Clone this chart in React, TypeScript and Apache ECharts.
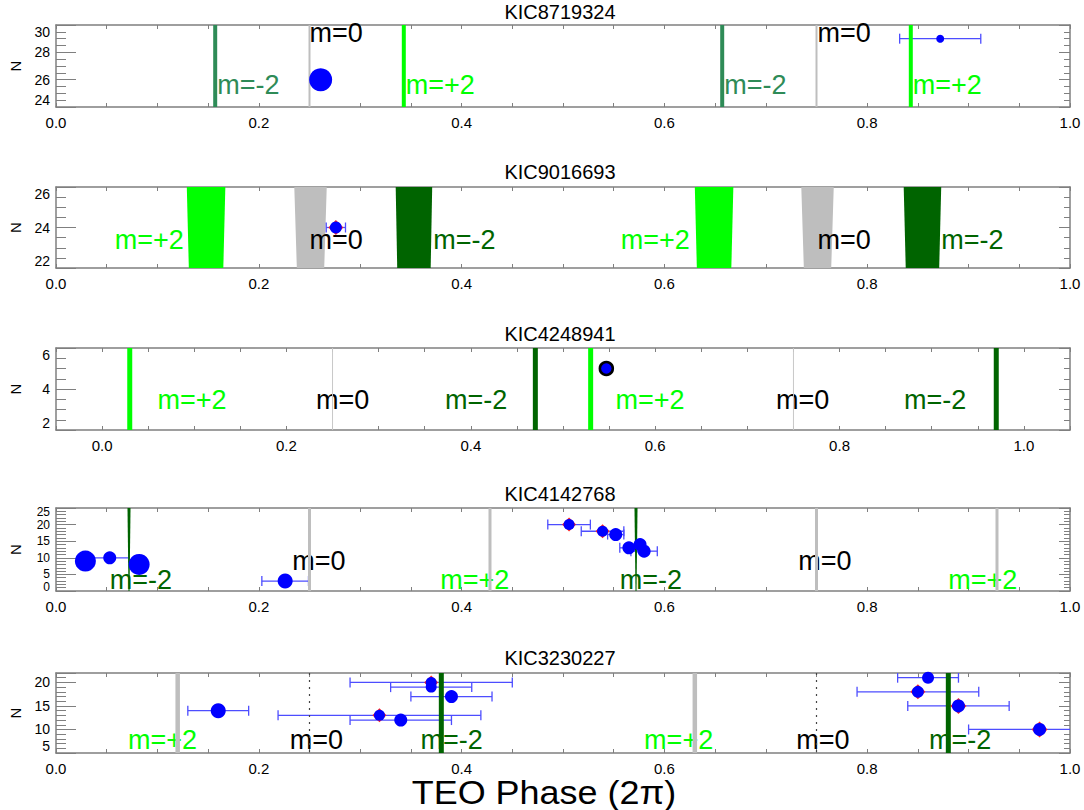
import React, { useEffect, useRef } from 'react';
import * as echarts from 'echarts';

// ---------------- data ----------------
const titles = ['KIC8719324', 'KIC9016693', 'KIC4248941', 'KIC4142768', 'KIC3230227'];
const xRanges = [[0, 1], [0, 1], [-0.05, 1.05], [0, 1], [0, 1]];
const yRanges = [[24, 30], [22, 26], [2, 6], [0, 25], [5, 22]];
const yIntervals = [2, 2, 2, 5, 5];
const yMinorSplits = [4, 4, 4, 5, 5];
const xTickStep = 0.05;
const xLabelStep = 0.2;

// mode markers: [phase, m, halfWidthTop, halfWidthBottom]
const modes1 = [[0.157, -2, 0, 0], [0.25, 0, 0, 0], [0.343, 2, 0, 0], [0.657, -2, 0, 0], [0.75, 0, 0, 0], [0.843, 2, 0, 0]];
const modes2 = [[0.148, 2, 0.019, 0.017], [0.251, 0, 0.016, 0.0135], [0.353, -2, 0.018, 0.0165], [0.649, 2, 0.019, 0.017], [0.751, 0, 0.016, 0.0135], [0.8545, -2, 0.0185, 0.0165]];
const modes3 = [[0.03, 2, 0, 0], [0.25, 0, 0, 0], [0.47, -2, 0, 0], [0.53, 2, 0, 0], [0.75, 0, 0, 0], [0.97, -2, 0, 0]];
const modes4 = [[0.072, -2, 0.0015, 0.0005], [0.25, 0, 0, 0], [0.428, 2, 0, 0], [0.572, -2, 0.0015, 0.0005], [0.75, 0, 0, 0], [0.928, 2, 0, 0]];
const modes5 = [[0.12, 2, 0, 0], [0.25, 0, 0, 0], [0.38, -2, 0, 0], [0.63, 2, 0, 0], [0.75, 0, 0, 0], [0.88, -2, 0, 0]];

// mode labels: [phase, N, m]
const labels1 = [[0.159, 25.6, -2], [0.25, 29.45, 0], [0.345, 25.6, 2], [0.659, 25.6, -2], [0.751, 29.45, 0], [0.845, 25.6, 2]];
const labels2 = [[0.058, 23.38, 2], [0.25, 23.38, 0], [0.372, 23.38, -2], [0.557, 23.38, 2], [0.751, 23.38, 0], [0.873, 23.38, -2]];
const labels3 = [[0.06, 3.46, 2], [0.232, 3.46, 0], [0.372, 3.46, -2], [0.557, 3.46, 2], [0.731, 3.46, 0], [0.87, 3.46, -2]];
const labels4 = [[0.053, 3.3, -2], [0.233, 9, 0], [0.379, 3.3, 2], [0.556, 3.3, -2], [0.732, 9, 0], [0.88, 3.3, 2]];
const labels5 = [[0.071, 7.7, 2], [0.2305, 7.7, 0], [0.3595, 7.7, -2], [0.58, 7.7, 2], [0.73, 7.7, 0], [0.861, 7.7, -2]];

// observed TEOs: [phase, N, phaseErr, amplitude, flagged]
const points1 = [[0.261, 26, 0, 23, 0], [0.872, 29, 0.04, 8, 0]];
const points2 = [[0.276, 24, 0.0095, 12, 1]];
const points3 = [[0.547, 5, 0, 13, 0]];
const points4 = [
  [0.029, 9, 0, 21, 0],
  [0.053, 10, 0.019, 13, 0],
  [0.082, 8, 0, 21, 0],
  [0.226, 3, 0.023, 15, 0],
  [0.506, 20, 0.021, 11, 1],
  [0.539, 18, 0.021, 11, 1],
  [0.552, 17, 0.008, 13, 0],
  [0.565, 13, 0.009, 13, 0],
  [0.576, 14, 0, 13, 0],
  [0.58, 12, 0.013, 13, 0],
];
const points5 = [
  [0.16, 14, 0.03, 15, 0],
  [0.37, 20, 0.08, 11, 1],
  [0.37, 19, 0.04, 11, 0],
  [0.39, 17, 0.04, 13, 0],
  [0.319, 13, 0.1, 11, 1],
  [0.34, 12, 0.05, 13, 0],
  [0.86, 21, 0.03, 12, 0],
  [0.85, 18, 0.06, 12, 1],
  [0.89, 15, 0.05, 13, 1],
  [0.97, 10, 0.07, 13, 1],
];

const allModes = [modes1, modes2, modes3, modes4, modes5];
const allLabels = [labels1, labels2, labels3, labels4, labels5];
const allPoints = [points1, points2, points3, points4, points5];

// ---------------- styles / layout ----------------
const FONT = 'Liberation Sans, Arial, Helvetica, sans-serif';
const AXIS = '#7f7f7f';
const GREEN = '#00ff00';
const DKGREEN = '#006400';
const SEAGREEN = '#2e8b57';
const GRAY = '#bebebe';
const EB = '#4d4dff';
const grids = [
  { top: 25, height: 82 },
  { top: 187, height: 81 },
  { top: 348, height: 82 },
  { top: 508, height: 83 },
  { top: 673, height: 80 },
];
const titleY = [11.5, 172, 334, 494, 658];
// panels whose end labels sit too close to their neighbours get them from a separate label-only axis
const crowdedPanels = [3];

function modeStyle(p: number, m: number): { color: string; width: number; dash?: number[] } {
  if (p === 0) return m === -2 ? { color: SEAGREEN, width: 4 } : m === 0 ? { color: GRAY, width: 2 } : { color: GREEN, width: 4 };
  if (p === 1) return m === -2 ? { color: DKGREEN, width: 0 } : m === 0 ? { color: GRAY, width: 0 } : { color: GREEN, width: 0 };
  if (p === 2) return m === -2 ? { color: DKGREEN, width: 5 } : m === 0 ? { color: '#c8c8c8', width: 1 } : { color: GREEN, width: 5 };
  if (p === 3) return m === -2 ? { color: DKGREEN, width: 2 } : { color: GRAY, width: 3 };
  return m === -2 ? { color: DKGREEN, width: 5 } : m === 0 ? { color: '#444444', width: 1.2, dash: [2, 5] } : { color: GRAY, width: 4.5 };
}
function labelColor(p: number, m: number) {
  if (m === 2) return GREEN;
  if (m === 0) return '#000000';
  return p === 0 ? SEAGREEN : DKGREEN;
}
function labelText(m: number) {
  return m === 2 ? 'm=+2' : m === 0 ? 'm=0' : 'm=-2';
}

function isMultiple(v: number, step: number) {
  const k = v / step;
  return Math.abs(k - Math.round(k)) < 1e-6;
}

function yLabelBase(crowded: boolean) {
  const base: any = {
    show: true, fontSize: crowded ? 12 : 14,
    color: '#000', fontFamily: FONT, margin: 6,
    verticalAlignMinLabel: 'bottom', verticalAlignMaxLabel: 'top',
  };
  if (crowded) base.lineHeight = 8;
  return base;
}

function buildOption() {
  const grid: any[] = [];
  const xAxis: any[] = [];
  const yAxis: any[] = [];
  const series: any[] = [];
  const graphic: any[] = [];
  const extraY: any[] = [];

  for (let p = 0; p < 5; p++) {
    grid.push({ left: 50, right: 14, top: grids[p].top, height: grids[p].height, containLabel: false });
    const [xmin, xmax] = xRanges[p];
    const [ymin, ymax] = yRanges[p];
    const crowded = crowdedPanels.indexOf(p) >= 0;
    const xCommon = {
      type: 'value', gridIndex: p, min: xmin, max: xmax, interval: xTickStep,
      axisLine: { show: true, onZero: false, lineStyle: { color: AXIS, width: 1.5 } },
      axisTick: { show: true, inside: true, length: 4, lineStyle: { color: AXIS, width: 1 } },
      splitLine: { show: false },
    };
    xAxis.push({
      ...xCommon, position: 'bottom',
      axisLabel: {
        show: true, fontSize: 15, color: '#000', fontFamily: FONT, margin: 8,
        showMinLabel: true, showMaxLabel: true,
        formatter: (v: number) => (isMultiple(v, xLabelStep) ? (Math.abs(v) < 1e-9 ? 0 : v).toFixed(1) : ''),
      },
    });
    xAxis.push({ ...xCommon, position: 'top', axisLabel: { show: false } });

    const yCommon = {
      type: 'value', gridIndex: p, min: ymin, max: ymax, interval: yIntervals[p],
      axisLine: { show: true, onZero: false, lineStyle: { color: AXIS, width: 1.5 } },
      splitLine: { show: false },
      minorSplitLine: { show: false },
    };
    yAxis.push({
      ...yCommon, position: 'left',
      axisTick: { show: true, inside: true, length: 20, lineStyle: { color: AXIS, width: 1 } },
      minorTick: { show: true, splitNumber: yMinorSplits[p], length: 10, lineStyle: { color: AXIS, width: 1 } },
      axisLabel: {
        ...yLabelBase(crowded),
        showMinLabel: !crowded, showMaxLabel: !crowded,
        formatter: (v: number) => (isMultiple(v, yIntervals[p]) ? String(Math.round(v)) : ''),
      },
      name: 'N', nameLocation: 'middle', nameGap: 33,
      nameTextStyle: { fontSize: 15, color: '#000', fontFamily: FONT },
    });
    yAxis.push({
      ...yCommon, position: 'right',
      axisTick: { show: true, inside: true, length: 11, lineStyle: { color: AXIS, width: 1 } },
      minorTick: { show: true, splitNumber: yMinorSplits[p], length: 6, lineStyle: { color: AXIS, width: 1 } },
      axisLabel: { show: false },
    });
    if (crowded) {
      extraY.push({
        type: 'value', gridIndex: p, position: 'left', min: ymin, max: ymax, interval: ymax - ymin,
        axisLine: { show: false, onZero: false }, axisTick: { show: false }, minorTick: { show: false },
        splitLine: { show: false },
        axisLabel: { ...yLabelBase(true), showMinLabel: true, showMaxLabel: true, formatter: (v: number) => String(Math.round(v)) },
      });
    }

    const xi = 2 * p;
    const yi = 2 * p;

    // mode lines / bands
    series.push({
      type: 'custom', xAxisIndex: xi, yAxisIndex: yi, silent: true, z: p === 1 ? 1 : 4,
      data: allModes[p],
      renderItem: (params: any, api: any) => {
        const x = api.value(0), m = api.value(1), ht = api.value(2), hb = api.value(3);
        const st = modeStyle(p, m);
        if (ht > 0) {
          const pts = [api.coord([x - ht, ymax]), api.coord([x + ht, ymax]), api.coord([x + hb, ymin]), api.coord([x - hb, ymin])];
          return { type: 'polygon', shape: { points: pts }, style: { fill: st.color } };
        }
        const a = api.coord([x, ymax]);
        const b = api.coord([x, ymin]);
        return {
          type: 'line',
          shape: { x1: a[0], y1: a[1], x2: b[0], y2: b[1] },
          style: { stroke: st.color, lineWidth: st.width, lineDash: st.dash || null, fill: null },
        };
      },
    });

    // mode labels
    series.push({
      type: 'custom', xAxisIndex: xi, yAxisIndex: yi, silent: true, z: p === 1 ? 3 : 2,
      data: allLabels[p],
      renderItem: (params: any, api: any) => {
        const c = api.coord([api.value(0), api.value(1)]);
        const m = api.value(2);
        return {
          type: 'text', x: c[0], y: c[1],
          style: {
            text: labelText(m), fill: labelColor(p, m), fontSize: 27, fontFamily: FONT,
            align: 'left', verticalAlign: 'middle',
          },
        };
      },
    });

    // error bars
    series.push({
      type: 'custom', xAxisIndex: xi, yAxisIndex: yi, silent: true, z: 3, clip: true,
      data: allPoints[p],
      renderItem: (params: any, api: any) => {
        const x = api.value(0), y = api.value(1), e = api.value(2);
        if (!e) return { type: 'group', children: [] };
        const a = api.coord([x - e, y]);
        const b = api.coord([x + e, y]);
        const cap = 5;
        const st = { stroke: EB, lineWidth: 1.3 };
        return {
          type: 'group',
          children: [
            { type: 'line', shape: { x1: a[0], y1: a[1], x2: b[0], y2: b[1] }, style: st },
            { type: 'line', shape: { x1: a[0], y1: a[1] - cap, x2: a[0], y2: a[1] + cap }, style: st },
            { type: 'line', shape: { x1: b[0], y1: b[1] - cap, x2: b[0], y2: b[1] + cap }, style: st },
          ],
        };
      },
    });

    // red diamond under flagged points
    series.push({
      type: 'scatter', xAxisIndex: xi, yAxisIndex: yi, silent: true, z: 5,
      symbol: 'diamond',
      symbolSize: (v: number[]) => v[3] + 3,
      itemStyle: { color: '#ff2020', opacity: 1 },
      data: allPoints[p].filter((d) => d[4] === 1),
    });

    // points
    series.push({
      type: 'scatter', xAxisIndex: xi, yAxisIndex: yi, silent: true, z: 6,
      symbol: 'circle',
      symbolSize: (v: number[]) => v[3],
      itemStyle: p === 2
        ? { color: '#0000ff', borderColor: '#000000', borderWidth: 2.5, opacity: 1 }
        : { color: '#0000ff', opacity: 1 },
      data: allPoints[p],
    });

    graphic.push({
      type: 'text', x: 560, y: titleY[p], silent: true,
      style: { text: titles[p], fontSize: 20, fontFamily: FONT, fill: '#000', align: 'center', verticalAlign: 'middle' },
    });
  }

  graphic.push({
    type: 'text', x: 544, y: 793, scaleX: 1.09, silent: true,
    style: { text: 'TEO Phase (2π)', fontSize: 33, fontFamily: FONT, fill: '#000', align: 'center', verticalAlign: 'middle' },
  });

  return {
    animation: false,
    backgroundColor: '#ffffff',
    grid, xAxis, yAxis: yAxis.concat(extraY), series, graphic,
  };
}

export default function App() {
  const ref = useRef<HTMLDivElement>(null);
  useEffect(() => {
    document.body.style.margin = '0';
    const chart = echarts.init(ref.current as HTMLDivElement, null, { renderer: 'svg' });
    chart.setOption(buildOption() as any);
    return () => chart.dispose();
  }, []);
  return <div ref={ref} style={{ width: 1084, height: 810 }} />;
}
